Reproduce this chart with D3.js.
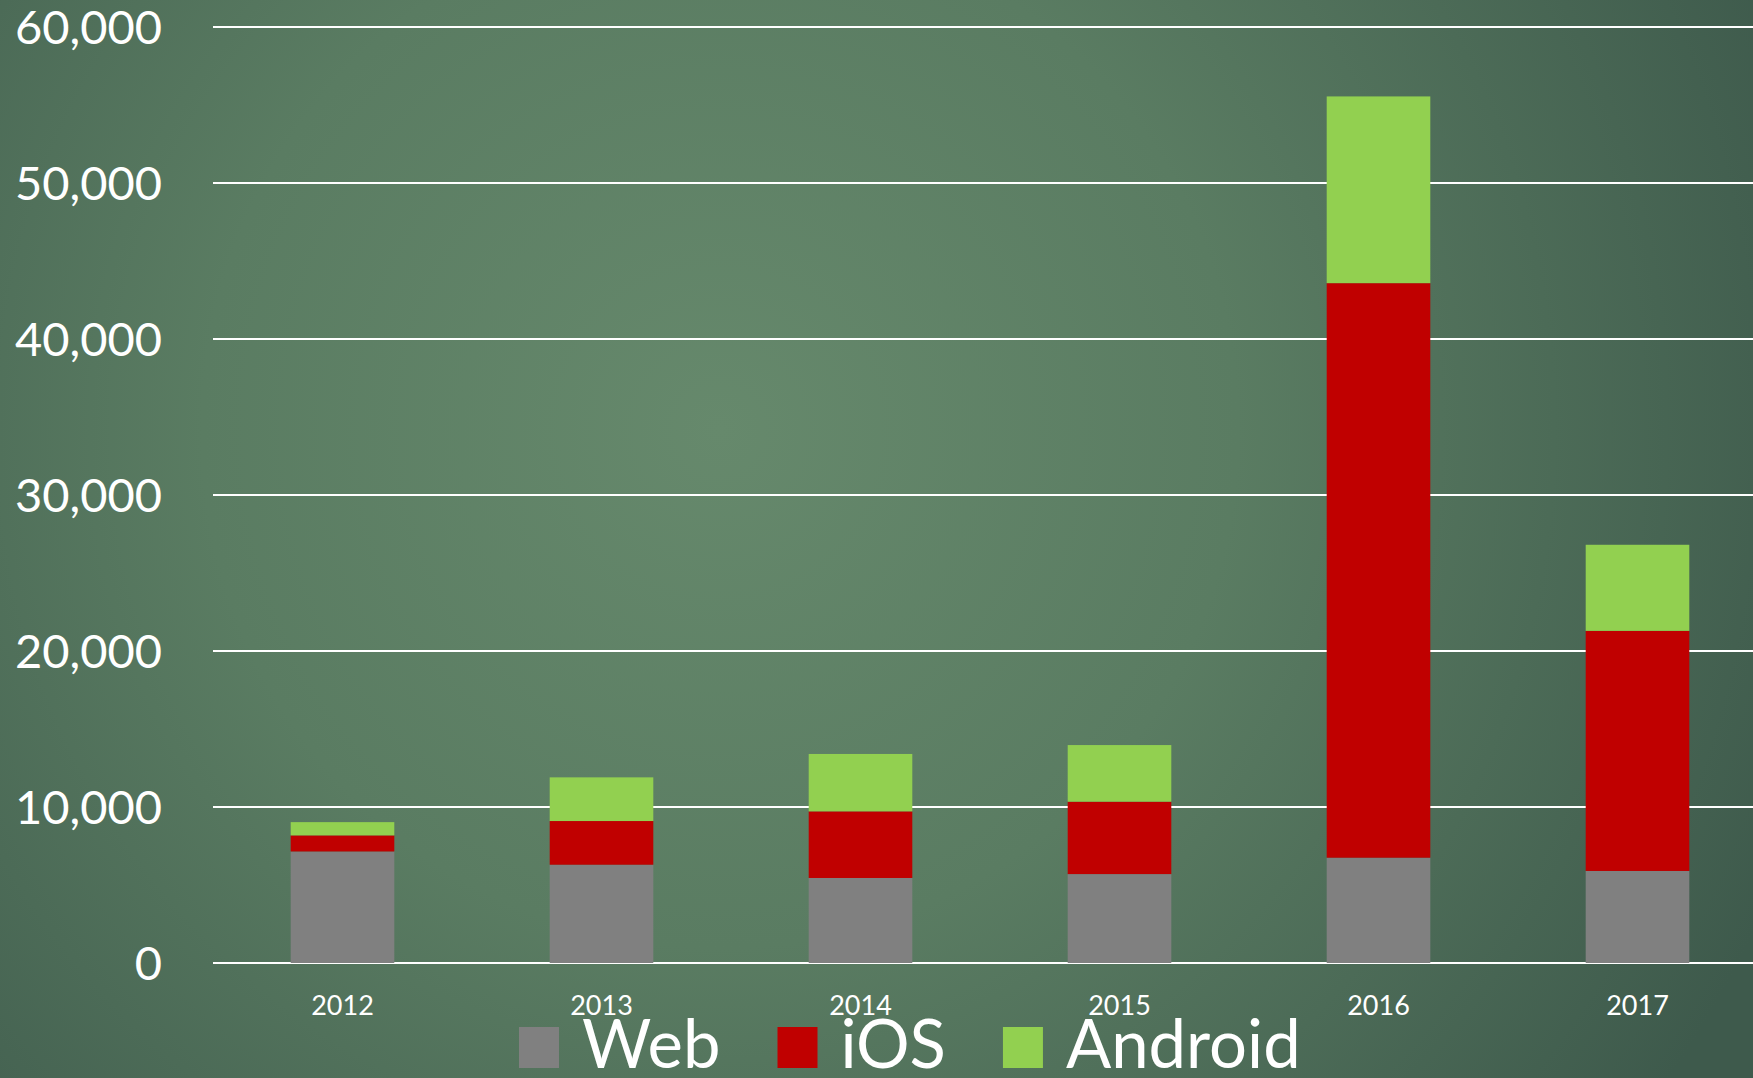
<!DOCTYPE html>
<html>
<head>
<meta charset="utf-8">
<script src="https://cdn.jsdelivr.net/npm/d3@7"></script>
<style>
  html, body { margin: 0; padding: 0; overflow: hidden; }
  svg { display: block; }
  text { font-family: Lato, 'Open Sans', sans-serif; fill: #fff; }
</style>
</head>
<body>
<div id="container"></div>
<script>
const years = ['2012', '2013', '2014', '2015', '2016', '2017']
const web = [7150, 6300, 5450, 5700, 6750, 5900]
const ios = [1030, 2800, 4270, 4640, 36830, 15390]
const android = [850, 2800, 3680, 3630, 11970, 5520]
const seriesNames = ['Web', 'iOS', 'Android']
const seriesColors = ['#808080', '#c00000', '#92d050']
const yTicks = [0, 10000, 20000, 30000, 40000, 50000, 60000]

const w = 1753
const h = 1078
const left = 213
const y0 = 963
const yTop = 27

const rows = years.map((y, i) => ({ year: y, Web: web[i], iOS: ios[i], Android: android[i] }))
const stacked = d3.stack().keys(seriesNames)(rows)

const svg = d3.select('#container')
    .append('svg')
    .attr('width', w)
    .attr('height', h)

// background
const defs = svg.append('defs')
const grad = defs.append('radialGradient')
    .attr('id', 'bg')
    .attr('gradientUnits', 'userSpaceOnUse')
    .attr('cx', 720).attr('cy', 430).attr('r', 1150)
grad.append('stop').attr('offset', '0%').attr('stop-color', '#66896c')
grad.append('stop').attr('offset', '45%').attr('stop-color', '#5a7c62')
grad.append('stop').attr('offset', '100%').attr('stop-color', '#3e5a4c')
svg.append('rect').attr('width', w).attr('height', h).attr('fill', 'url(#bg)')

const x = d3.scaleBand()
    .domain(years)
    .range([left, left + 6 * 259])
    .paddingInner(0.6)
    .paddingOuter(0.3)

const y = d3.scaleLinear()
    .domain([0, 60000])
    .range([y0, yTop])

// gridlines
svg.append('g')
    .selectAll('line')
    .data(yTicks)
    .enter()
    .append('line')
    .attr('x1', left)
    .attr('x2', w)
    .attr('y1', d => y(d))
    .attr('y2', d => y(d))
    .attr('stroke', '#fff')
    .attr('stroke-width', 2)

// y labels
svg.append('g')
    .selectAll('text')
    .data(yTicks)
    .enter()
    .append('text')
    .attr('x', 162)
    .attr('y', d => y(d))
    .attr('dy', '0.36em')
    .attr('text-anchor', 'end')
    .attr('font-size', 47)
    .text(d => d3.format(',')(d))

// bars
svg.append('g')
    .selectAll('g')
    .data(stacked)
    .enter()
    .append('g')
    .attr('fill', (d, i) => seriesColors[i])
    .selectAll('rect')
    .data(d => d)
    .enter()
    .append('rect')
    .attr('x', d => x(d.data.year))
    .attr('width', x.bandwidth())
    .attr('y', d => y(d[1]))
    .attr('height', d => y(d[0]) - y(d[1]))

// x labels
svg.append('g')
    .selectAll('text')
    .data(years)
    .enter()
    .append('text')
    .attr('x', d => x(d) + x.bandwidth() / 2)
    .attr('y', 1015)
    .attr('text-anchor', 'middle')
    .attr('font-size', 27)
    .text(d => d)

// legend (sits over the year labels, as in the original)
const legend = svg.append('g').attr('transform', 'translate(519,0)')
let lx = 0
seriesNames.forEach((name, i) => {
    legend.append('rect')
        .attr('x', lx)
        .attr('y', 1027)
        .attr('width', 40)
        .attr('height', 41)
        .attr('fill', seriesColors[i])
    const t = legend.append('text')
        .attr('x', lx + 63)
        .attr('y', 1068)
        .attr('font-size', 67)
        .text(name)
    lx += 63 + t.node().getComputedTextLength() + 57
})
</script>
</body>
</html>
